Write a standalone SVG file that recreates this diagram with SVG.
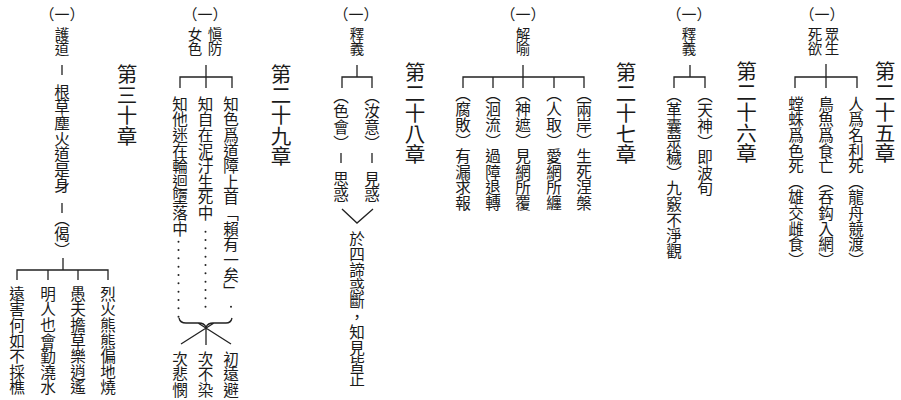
<svg xmlns="http://www.w3.org/2000/svg" width="901" height="400" viewBox="0 0 901 400">
<style>
text{font-family:"Noto Sans CJK TC","Noto Sans CJK SC",sans-serif;fill:#1a1a1a}
.v{writing-mode:vertical-rl}
.b{font-size:15.6px}
.l{font-size:14.5px}
.c{font-size:20.5px}
.h{font-size:15px;text-anchor:middle;dominant-baseline:central}
.ln{stroke:#222;stroke-width:1.3;fill:none}
.dot{stroke:#222;stroke-width:2;stroke-linecap:round;fill:none}
</style>
<rect width="901" height="400" fill="#fff"/>
<g id="ch25">
<text class="v c" x="885" y="61">第二十五章</text>
<text class="h" x="822" y="13">（一）</text>
<text class="v l" x="832" y="27">眾生</text>
<text class="v l" x="815" y="27">死欲</text>
<text class="v b" x="856" y="96">人爲名利死（龍舟競渡）</text>
<text class="v b" x="826" y="96">鳥魚爲食亡（呑鈎入網）</text>
<text class="v b" x="796" y="96">螳蛛爲色死（雄交雌食）</text>
</g>
<g id="ch26">
<text class="v c" x="746.5" y="61">第二十六章</text>
<text class="h" x="689" y="13">（一）</text>
<text class="v l" x="689" y="27">釋義</text>
<text class="v b" x="705" y="87">（天神）即波旬</text>
<text class="v b" x="674" y="87">（革囊眾穢）九竅不淨觀</text>
</g>
<g id="ch27">
<text class="v c" x="626" y="62">第二十七章</text>
<text class="h" x="523" y="13">（一）</text>
<text class="v l" x="523" y="27">解喻</text>
<text class="v b" x="584" y="86">（兩岸）生死涅槃</text>
<text class="v b" x="554" y="86">（人取）愛網所纏</text>
<text class="v b" x="523" y="86">（神遮）見網所覆</text>
<text class="v b" x="493" y="86">（洄流）過障退轉</text>
<text class="v b" x="463" y="86">（腐敗）有漏求報</text>
</g>
<g id="ch28">
<text class="v c" x="415" y="62">第二十八章</text>
<text class="h" x="356" y="13">（一）</text>
<text class="v l" x="357" y="27">釋義</text>
<text class="v b" x="372" y="88">（汝意）</text>
<text class="v b" x="341" y="88">（色會）</text>
<text class="v b" x="372" y="171">見惑</text>
<text class="v b" x="341" y="171">思惑</text>
<text class="v b" x="357" y="231">於四諦惑斷，知見皆正</text>
</g>
<g id="ch29">
<text class="v c" x="281" y="64">第二十九章</text>
<text class="h" x="205" y="13">（一）</text>
<text class="v l" x="215" y="27">愼防</text>
<text class="v l" x="195" y="27">女色</text>
<text class="v b" x="231" y="96">知色爲道障上首「賴有一矣」</text>
<text class="v b" x="205.5" y="96">知自在泥汙生死中</text>
<text class="v b" x="180" y="96">知他迷在輪迴墮落中</text>
<text class="v b" x="231" y="351">初遠避</text>
<text class="v b" x="205.5" y="351">次不染</text>
<text class="v b" x="180" y="351">次悲憫</text>
</g>
<g id="ch30">
<text class="v c" x="127" y="64">第三十章</text>
<text class="h" x="62" y="13">（一）</text>
<text class="v l" x="62" y="27">護道</text>
<text class="v b" x="62" y="84">根草塵火道是身</text>
<text class="v b" x="62" y="211">（偈）</text>
<text class="v b" x="108" y="286">烈火熊熊偏地燒</text>
<text class="v b" x="78" y="286">愚夫擔草樂逍遙</text>
<text class="v b" x="48" y="286">明人也會勤澆水</text>
<text class="v b" x="17" y="286">遠害何如不採樵</text>
</g>
<g id="connectors">
<path class="ln" d="M826 64V88M795 88V77H857V88"/>
<path class="ln" d="M690 65V77M674 88V77H705V88"/>
<path class="ln" d="M523 65V88M463 88V77H584V88M493 77V88M554 77V88"/>
<path class="ln" d="M357 65V77M342 88V77H372V88M372 153V163M341 153V163M342 209L357 223L373 209"/>
<path class="ln" d="M206 65V88M180 88V77H232V88"/>
<path class="ln" d="M179 318Q180 323 186 323H199Q204 323 206 327Q208 323 213 323H226Q231 323 232 318M198 323L231 344M214 323L181 344M206 327V345"/>
<line class="dot" x1="178.5" y1="241.7" x2="178.5" y2="316.7" stroke-dasharray="0 8.33"/>
<line class="dot" x1="205.5" y1="231.7" x2="205.5" y2="315" stroke-dasharray="0 8.33"/>
<line class="dot" x1="231" y1="306.7" x2="231" y2="313.4" stroke-dasharray="0 6.7"/>
<path class="ln" d="M62 65V75M62 203V213M63 258V270M17 280V270H108V280M48 270V280M78 270V280"/>
</g>
</svg>
